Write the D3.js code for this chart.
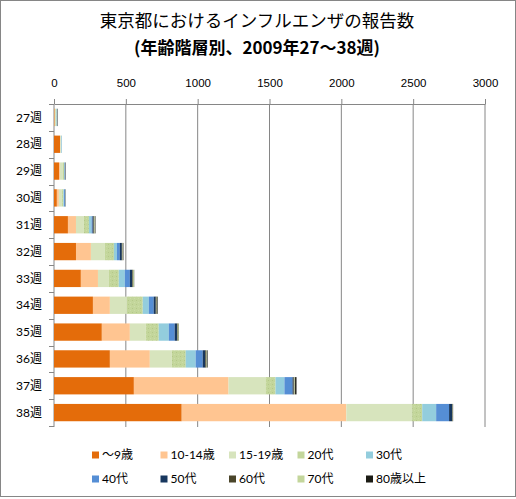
<!DOCTYPE html>
<html>
<head>
<meta charset="utf-8">
<script src="https://cdn.jsdelivr.net/npm/d3@7"></script>
<style>
  body { margin: 0; background: #fff; }
  svg { display: block; font-family: "Lato", "Noto Sans CJK JP", sans-serif; }
</style>
</head>
<body>
<div id="chart"></div>
<script>
// weeks (categories) and age groups (series)
var weeks = ["27週", "28週", "29週", "30週", "31週", "32週", "33週", "34週", "35週", "36週", "37週", "38週"];
var ageGroups = ["〜9歳", "10-14歳", "15-19歳", "20代", "30代", "40代", "50代", "60代", "70代", "80歳以上"];
var xTicks = [0, 500, 1000, 1500, 2000, 2500, 3000];

// reports per week, one array per age group
var age0to9   = [4, 42, 35, 20, 97, 153, 187, 271, 333, 389, 556, 889];
var age10to14 = [2, 2, 7, 14, 56, 104, 119, 118, 195, 278, 659, 1146];
var age15to19 = [5, 4, 20, 21, 55, 97, 76, 118, 111, 152, 257, 458];
var age20s    = [6, 2, 8, 10, 35, 63, 69, 111, 90, 98, 70, 70];
var age30s    = [3, 4, 4, 5, 18, 21, 42, 42, 70, 69, 62, 97];
var age40s    = [2, 1, 2, 6, 7, 20, 35, 34, 41, 49, 56, 90];
var age50s    = [2, 0, 3, 3, 7, 14, 16, 14, 16, 18, 7, 21];
var age60s    = [1, 0, 1, 1, 7, 5, 5, 7, 5, 5, 7, 3];
var age70s    = [1, 0, 0, 1, 4, 3, 7, 3, 7, 5, 4, 2];
var age80plus = [1, 0, 1, 0, 3, 3, 2, 4, 2, 6, 10, 2];

var series = [age0to9, age10to14, age15to19, age20s, age30s, age40s, age50s, age60s, age70s, age80plus];
var colors = ["#E46C0A", "#FFC591", "#D7E4BD", "url(#dots)", "#93CDDD", "#558ED5", "#17375E", "#4A452A", "url(#dots)", "#1B1B14"];
var legendColors = ["#E46C0A", "#FFC591", "#D7E4BD", "#C3D69B", "#93CDDD", "#558ED5", "#17375E", "#4A452A", "#C3D69B", "#1B1B14"];

var width = 516, height = 499,
    margin = {top: 104, right: 31, bottom: 73, left: 54};

var table = weeks.map(function(w, i) {
  var row = {week: w};
  ageGroups.forEach(function(a, j) { row[a] = series[j][i]; });
  return row;
});
var stacked = d3.stack().keys(ageGroups)(table);

var x = d3.scaleLinear().domain([0, 3000]).range([margin.left, width - margin.right]);
var y = d3.scaleBand().domain(weeks)
    .range([margin.top, height - margin.bottom])
    .paddingInner(0.355).paddingOuter(0.1775);

var svg = d3.select("#chart").append("svg")
    .attr("width", width).attr("height", height);

// speckled fill used by Excel for 20代 / 70代
var defs = svg.append("defs");
var pat = defs.append("pattern")
    .attr("id", "dots")
    .attr("patternUnits", "userSpaceOnUse")
    .attr("width", 4).attr("height", 4);
pat.append("rect").attr("width", 4).attr("height", 4).attr("fill", "#C3D69B");
pat.append("rect").attr("x", 0).attr("y", 0).attr("width", 1).attr("height", 1).attr("fill", "#B4C889");
pat.append("rect").attr("x", 2).attr("y", 2).attr("width", 1).attr("height", 1).attr("fill", "#CCDDA8");

// outer frame
svg.append("rect")
    .attr("x", 0.5).attr("y", 0.5)
    .attr("width", width - 1).attr("height", height - 3)
    .attr("fill", "#fff").attr("stroke", "#868686");

// title
svg.append("text")
    .attr("x", 257).attr("y", 27)
    .attr("text-anchor", "middle")
    .style("font-family", "'Noto Sans CJK JP', sans-serif")
    .style("font-size", "17.5px")
    .text("東京都におけるインフルエンザの報告数");
svg.append("text")
    .attr("x", 257).attr("y", 54)
    .attr("text-anchor", "middle")
    .style("font-family", "'Noto Sans CJK JP', sans-serif")
    .style("font-size", "17px")
    .style("font-weight", "bold")
    .text("(年齢階層別、2009年27〜38週)");

// gridlines
svg.append("g").selectAll("line")
    .data(xTicks.slice(1)).enter().append("line")
    .attr("x1", function(d) { return x(d); })
    .attr("x2", function(d) { return x(d); })
    .attr("y1", margin.top).attr("y2", height - margin.bottom + 1)
    .attr("stroke", "#868686");

// top axis
var xAxis = svg.append("g")
    .attr("transform", "translate(0," + margin.top + ")")
    .call(d3.axisTop(x).tickValues(xTicks).tickFormat(d3.format("d"))
      .tickSize(5).tickPadding(12).tickSizeOuter(0));
xAxis.select(".domain").attr("stroke", "#868686");
xAxis.selectAll(".tick line").attr("stroke", "#868686");
xAxis.selectAll(".tick text").style("font-size", "11.5px").attr("fill", "#000");

// left axis with ticks between categories
var step = y.step(), off = step * y.paddingInner() / 2;
var bounds = weeks.map(function(w) { return y(w) - off; }).concat([y(weeks[weeks.length - 1]) + y.bandwidth() + off]);
svg.append("line")
    .attr("x1", margin.left).attr("x2", margin.left)
    .attr("y1", margin.top).attr("y2", height - margin.bottom + 1)
    .attr("stroke", "#868686");
svg.append("g").selectAll("line")
    .data(bounds).enter().append("line")
    .attr("x1", margin.left - 5).attr("x2", margin.left)
    .attr("y1", function(d) { return Math.round(d) + 0.5; })
    .attr("y2", function(d) { return Math.round(d) + 0.5; })
    .attr("stroke", "#868686");
svg.append("g").selectAll("text")
    .data(weeks).enter().append("text")
    .attr("x", 42)
    .attr("y", function(d) { return y(d) + y.bandwidth() / 2; })
    .attr("dy", "0.35em")
    .attr("text-anchor", "end")
    .style("font-size", "12px")
    .text(function(d) { return d; });

// bars
svg.append("g").selectAll("g")
    .data(stacked).enter().append("g")
    .attr("fill", function(d, i) { return colors[i]; })
  .selectAll("rect")
    .data(function(d) { return d; }).enter().append("rect")
    .attr("x", function(d) { return x(d[0]); })
    .attr("y", function(d) { return y(d.data.week); })
    .attr("width", function(d) { return x(d[1]) - x(d[0]); })
    .attr("height", y.bandwidth());

// legend
var legend = svg.append("g").selectAll("g")
    .data(ageGroups).enter().append("g")
    .attr("transform", function(d, i) {
      return "translate(" + (92 + (i % 5) * 68.5) + "," + (455 + Math.floor(i / 5) * 24) + ")";
    });
legend.append("rect")
    .attr("x", 0).attr("y", -3.5)
    .attr("width", 7).attr("height", 7)
    .attr("fill", function(d, i) { return legendColors[i]; });
legend.append("text")
    .attr("x", 10).attr("dy", "0.35em")
    .style("font-size", "12px")
    .text(function(d) { return d; });
</script>
</body>
</html>
